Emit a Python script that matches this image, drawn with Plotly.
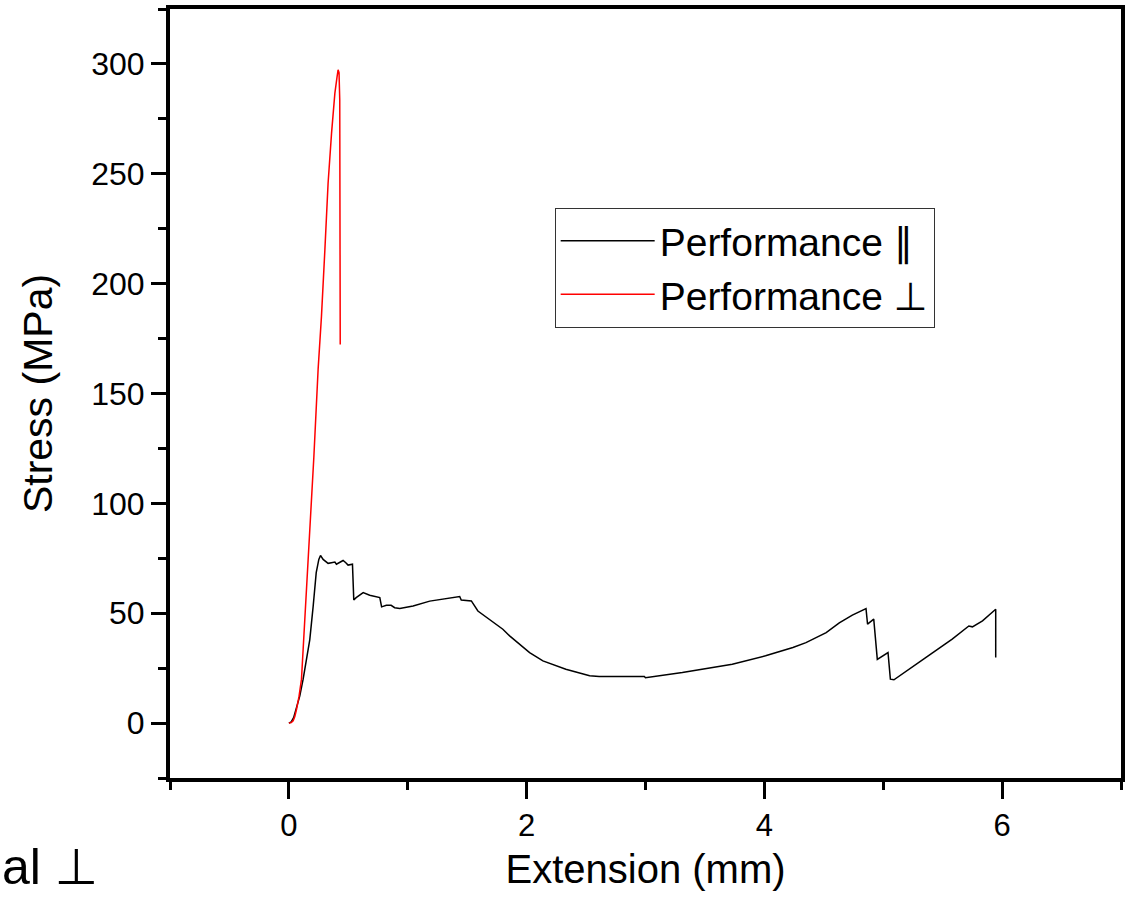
import plotly.graph_objects as go

# Performance ∥ (black)
par_x = [0, 0.02, 0.04, 0.06, 0.092, 0.12, 0.148, 0.176, 0.204, 0.23, 0.252, 0.266, 0.288,
         0.33, 0.358, 0.387, 0.40, 0.42, 0.456, 0.479, 0.498, 0.535, 0.546, 0.566, 0.625,
         0.68, 0.765, 0.78, 0.82, 0.86, 0.89, 0.933, 1.045, 1.185, 1.353, 1.437, 1.45,
         1.535, 1.59, 1.69, 1.80, 1.857, 2.025, 2.137, 2.33, 2.53, 2.61, 2.78, 2.99, 3.0,
         3.31, 3.73, 4.01, 4.24, 4.35, 4.52, 4.63, 4.74, 4.855, 4.868, 4.92, 4.95, 5.04,
         5.06, 5.09, 5.36, 5.58, 5.72, 5.75, 5.835, 5.946, 5.946]
par_y = [0, 0.5, 2.5, 6, 12.4, 20, 29, 38, 53, 68.5, 74.5, 76.3, 74.5,
         72.7, 73, 73.3, 72.3, 73, 74, 73, 71.9, 72.3, 56, 57.1, 59.4,
         58.2, 57.1, 52.9, 53.6, 53.6, 52.5, 52.2, 53.3, 55.5, 57.1, 57.6, 56,
         55.6, 51, 47, 42.7, 39.7, 32.1, 28.3, 24.5, 21.5, 21.2, 21.2, 21.2, 20.6,
         23, 26.8, 30.6, 34.4, 36.6, 41.2, 45.6, 49.1, 52.1, 45, 47.3, 29, 32.1,
         20, 19.7, 29.9, 38.2, 44.2, 43.8, 46.5, 51.8, 29.8]

# Performance ⊥ (red)
perp_x = [0, 0.02, 0.036, 0.05, 0.065, 0.085, 0.106, 0.14, 0.176, 0.21, 0.246, 0.274,
          0.303, 0.33, 0.359, 0.387, 0.405, 0.414, 0.422, 0.428, 0.432]
perp_y = [0, 0.2, 1, 3, 6.4, 12, 20, 52, 83.6, 121, 161, 185,
          215.5, 245.8, 268.5, 286.7, 294, 297.3, 296, 283.6, 172.3]

x_title = "Extension (mm)"
y_title = "Stress (MPa)"
names = ["Performance ∥", "Performance ⊥"]

FONT = "Liberation Sans, Arial, DejaVu Sans, sans-serif"

fig = go.Figure()
fig.add_trace(go.Scatter(x=par_x, y=par_y, mode="lines", name=names[0],
                         line=dict(color="#000000", width=1.5)))
fig.add_trace(go.Scatter(x=perp_x, y=perp_y, mode="lines", name=names[1],
                         line=dict(color="#ff0000", width=1.5)))

fig.update_layout(
    width=1130, height=898,
    margin=dict(l=170, r=5, t=8, b=120),
    paper_bgcolor="white", plot_bgcolor="white",
    font=dict(family=FONT, color="black"),
    showlegend=True,
    legend=dict(x=0.4045, y=0.7415, xanchor="left", yanchor="top",
                bgcolor="white", bordercolor="#333333", borderwidth=1,
                font=dict(size=39, family=FONT, color="black"),
                itemwidth=94),
    annotations=[dict(text="al ⊥", xref="paper", yref="paper",
                      x=-0.1775, y=-0.1535, xanchor="left", yanchor="bottom",
                      borderpad=0,
                      showarrow=False, font=dict(size=50, family=FONT, color="black"))],
)

fig.update_xaxes(
    range=[-1, 7], tickvals=[0, 2, 4, 6], ticktext=["0", "2", "4", "6"],
    showgrid=False, zeroline=False,
    showline=True, linewidth=4, linecolor="black", mirror=True,
    ticks="outside", ticklen=17, tickwidth=3, tickcolor="black",
    tickfont=dict(size=31, family=FONT, color="black"),
    minor=dict(tickvals=[-1, 1, 3, 5, 7], ticks="outside", ticklen=8, tickwidth=3, tickcolor="black"),
    title=dict(text=x_title, font=dict(size=40, family=FONT, color="black"), standoff=14),
)
fig.update_yaxes(
    range=[-25, 325], tickvals=[0, 50, 100, 150, 200, 250, 300],
    showgrid=False, zeroline=False,
    showline=True, linewidth=4, linecolor="black", mirror=True,
    ticks="outside", ticklen=15, tickwidth=3, tickcolor="black",
    tickfont=dict(size=32, family=FONT, color="black"),
    minor=dict(tickvals=[-25, 25, 75, 125, 175, 225, 275, 325], ticks="outside", ticklen=8, tickwidth=3, tickcolor="black"),
    title=dict(text=y_title, font=dict(size=41, family=FONT, color="black"), standoff=27),
)

fig.write_html("out.html", config={"displayModeBar": False},
               post_script="document.body.style.margin='0';")
